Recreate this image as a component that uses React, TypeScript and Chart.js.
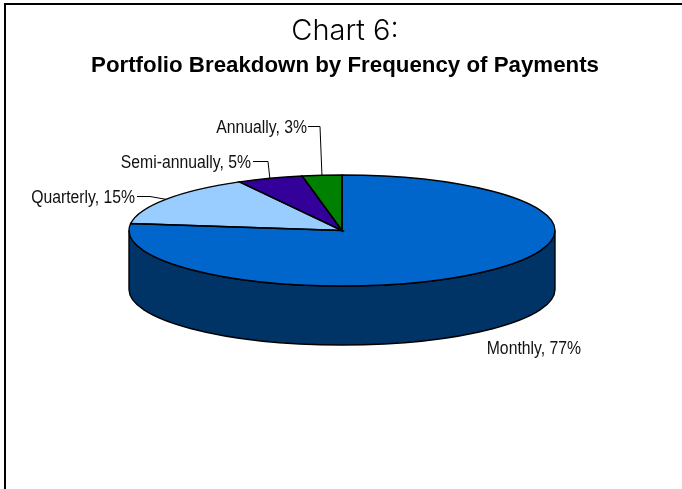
import React, { useEffect, useRef } from "react";
import { Chart, registerables } from "chart.js";

Chart.register(...registerables);

const categories = ["Monthly", "Quarterly", "Semi-annually", "Annually"];
const shares = [77, 15, 5, 3];
const sliceColors = ["#0066CC", "#99CCFF", "#330099", "#008000"];
const titleText = "Chart 6:";
const subtitleText = "Portfolio Breakdown by Frequency of Payments";

const CX = 342;
const CY = 230.5;
const RX = 213;
const RY = 55.5;
const DEPTH = 59;
const SIDE_COLOR = "#003366";
const LABEL_FONT = '17.5px "Liberation Sans", sans-serif';
const LABEL_SQUEEZE = 0.9;

// layout of each label: right end of text, centre y, elbow of the leader (null = none)
const labelLayout = [
  { textX: 581, textY: 349, elbow: null as null | number[] },
  { textX: 135, textY: 198, elbow: [137, 150, 196] },
  { textX: 251, textY: 163, elbow: [253, 268, 161] },
  { textX: 307, textY: 128, elbow: [308, 320, 126] },
];

const piePlugin = {
  id: "flatPie",
  beforeDraw(chart: any) {
    const { ctx, width, height } = chart;
    ctx.save();
    ctx.fillStyle = "#fff";
    ctx.fillRect(0, 0, width, height);
    ctx.fillStyle = "#000";
    ctx.fillRect(4, 3, width - 4, 2);
    ctx.fillRect(4, 3, 2, height - 3);
    ctx.restore();
  },
  beforeDatasetsDraw(chart: any) {
    const { ctx } = chart;
    const arc = chart.getDatasetMeta(0).data[0];
    ctx.save();
    ctx.beginPath();
    ctx.ellipse(CX, CY, RX, RY, 0, Math.PI, 0, true);
    ctx.lineTo(CX + RX, CY + DEPTH);
    ctx.ellipse(CX, CY + DEPTH, RX, RY, 0, 0, Math.PI, false);
    ctx.closePath();
    ctx.fillStyle = SIDE_COLOR;
    ctx.fill();
    ctx.strokeStyle = "#000";
    ctx.lineWidth = 1.4;
    ctx.stroke();
    ctx.restore();

    ctx.save();
    ctx.translate(CX, CY);
    ctx.scale(1, RY / RX);
    ctx.translate(-arc.x, -arc.y);
  },
  afterDatasetsDraw(chart: any) {
    const { ctx } = chart;
    ctx.restore();
    const arcs = chart.getDatasetMeta(0).data;
    ctx.save();
    ctx.strokeStyle = "#000";
    ctx.lineWidth = 1.4;
    arcs.forEach((a: any) => {
      ctx.beginPath();
      ctx.moveTo(CX, CY);
      ctx.ellipse(CX, CY, RX, RY, 0, a.startAngle, a.endAngle, false);
      ctx.closePath();
      ctx.stroke();
    });
    ctx.font = LABEL_FONT;
    ctx.fillStyle = "#111";
    ctx.textAlign = "right";
    ctx.textBaseline = "middle";
    ctx.lineWidth = 1;
    arcs.forEach((a: any, i: number) => {
      const l = labelLayout[i];
      ctx.save();
      ctx.translate(l.textX, l.textY);
      ctx.scale(LABEL_SQUEEZE, 1);
      ctx.fillText(`${categories[i]}, ${shares[i]}%`, 0, 0);
      ctx.restore();
      if (l.elbow) {
        const mid = (a.startAngle + a.endAngle) / 2;
        ctx.beginPath();
        ctx.moveTo(l.elbow[0], l.elbow[2] + 0.5);
        ctx.lineTo(l.elbow[1], l.elbow[2] + 0.5);
        ctx.lineTo(CX + RX * Math.cos(mid), CY + RY * Math.sin(mid));
        ctx.stroke();
      }
    });
    ctx.restore();
  },
};

export default function App() {
  const ref = useRef<HTMLCanvasElement>(null);
  useEffect(() => {
    const chart = new Chart(ref.current as HTMLCanvasElement, {
      type: "pie",
      data: {
        labels: categories,
        datasets: [
          {
            data: shares,
            backgroundColor: sliceColors,
            borderWidth: 0,
            clip: false,
          } as any,
        ],
      },
      options: {
        responsive: false,
        animation: false,
        radius: RX,
        layout: { padding: { left: 8 } },
        plugins: {
          legend: { display: false },
          tooltip: { enabled: false },
          title: {
            display: true,
            text: titleText,
            color: "#000",
            font: { family: "Inter, 'Liberation Sans', sans-serif", size: 29, weight: "300" as any, lineHeight: 1.2 },
            padding: { top: 14, bottom: 0 },
          },
          subtitle: {
            display: true,
            text: subtitleText,
            color: "#000",
            font: { family: "'Liberation Sans', sans-serif", size: 22.3, weight: "bold", lineHeight: 1.2 },
            padding: { top: 4, bottom: 8 },
          },
        },
      } as any,
      plugins: [piePlugin],
    });
    return () => chart.destroy();
  }, []);
  return (
    <div style={{ position: "absolute", left: 0, top: 0, width: 682, height: 489 }}>
      <canvas ref={ref} width={682} height={489} style={{ display: "block" }} />
    </div>
  );
}
